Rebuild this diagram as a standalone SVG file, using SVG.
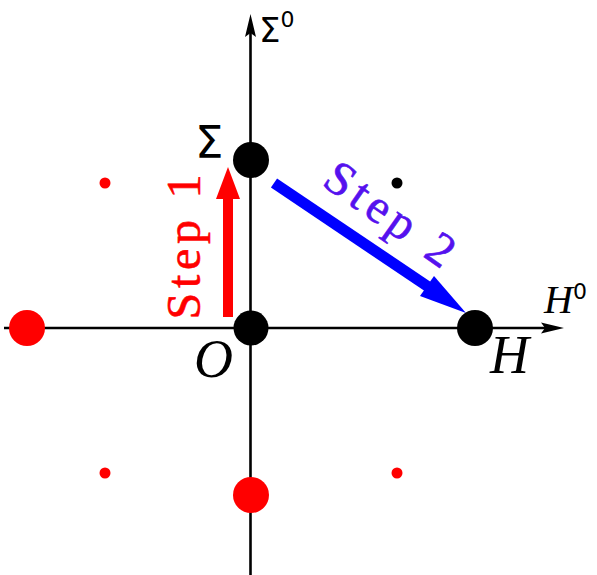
<svg xmlns="http://www.w3.org/2000/svg" width="597" height="575" viewBox="0 0 597 575">
<style>
.axis{stroke:#000;stroke-width:2.6;fill:none}
.bdot{fill:#000}
.rdot{fill:#ff0000}
.sym{font-family:"DejaVu Sans",sans-serif;fill:#000}
.ital{font-family:"Liberation Serif","DejaVu Serif",serif;font-style:italic;fill:#000}
.step{font-family:"Liberation Serif",serif;font-size:48px;stroke-width:0.6}
</style>
<rect width="597" height="575" fill="#fff"/>
<g id="axes">
<line class="axis" x1="250.5" y1="575" x2="250.5" y2="30"/>
<polygon points="250.5,14 256,37 250.5,33 245,37" fill="#000"/>
<line class="axis" x1="4" y1="328" x2="548" y2="328"/>
<polygon points="564,328 541,322.5 545,328 541,333.5" fill="#000"/>
</g>
<g id="connectors">
<g id="step1-arrow">
<rect x="223" y="196" width="10" height="121" fill="#ff0000"/>
<polygon points="228,167 240,199 216,199" fill="#ff0000"/>
</g>
<g id="step2-arrow">
<line x1="274" y1="183" x2="430" y2="288" stroke="#0000ff" stroke-width="11"/>
<polygon points="466,313 420,296 434,276" fill="#0000ff"/>
</g>
</g>
<g id="node-Sigma">
<circle class="bdot" cx="251" cy="160" r="18"/>
<text class="sym" x="195" y="158" font-size="45">Σ</text>
</g>
<g id="node-O">
<circle class="bdot" cx="251" cy="328" r="17.5"/>
<text class="ital" x="194" y="377" font-size="54">O</text>
</g>
<g id="node-H">
<circle class="bdot" cx="475" cy="328" r="18"/>
<text class="ital" x="490" y="373" font-size="54">H</text>
</g>
<g id="node-small-black">
<circle class="bdot" cx="397" cy="183" r="5.5"/>
</g>
<g id="red-dots">
<circle class="rdot" cx="27" cy="328" r="18"/>
<circle class="rdot" cx="251" cy="495" r="18"/>
<circle class="rdot" cx="105" cy="183" r="5.5"/>
<circle class="rdot" cx="105" cy="473" r="5.5"/>
<circle class="rdot" cx="397" cy="473" r="5.5"/>
</g>
<g id="axis-labels">
<text class="sym" x="259" y="42" font-size="34">Σ<tspan font-size="22" dy="-15">0</tspan></text>
<text class="ital" x="544" y="313" font-size="40">H<tspan class="sym" font-style="normal" font-size="22" dy="-14">0</tspan></text>
</g>
<g id="labels">
<text class="step" fill="#ff0000" stroke="#ff0000" text-anchor="middle" textLength="145" lengthAdjust="spacing" transform="translate(200,247) rotate(-90)">Step 1</text>
<text class="step" fill="#5511ee" stroke="#5511ee" text-anchor="middle" textLength="148" lengthAdjust="spacing" transform="translate(381,227) rotate(35)">Step 2</text>
</g>
</svg>
